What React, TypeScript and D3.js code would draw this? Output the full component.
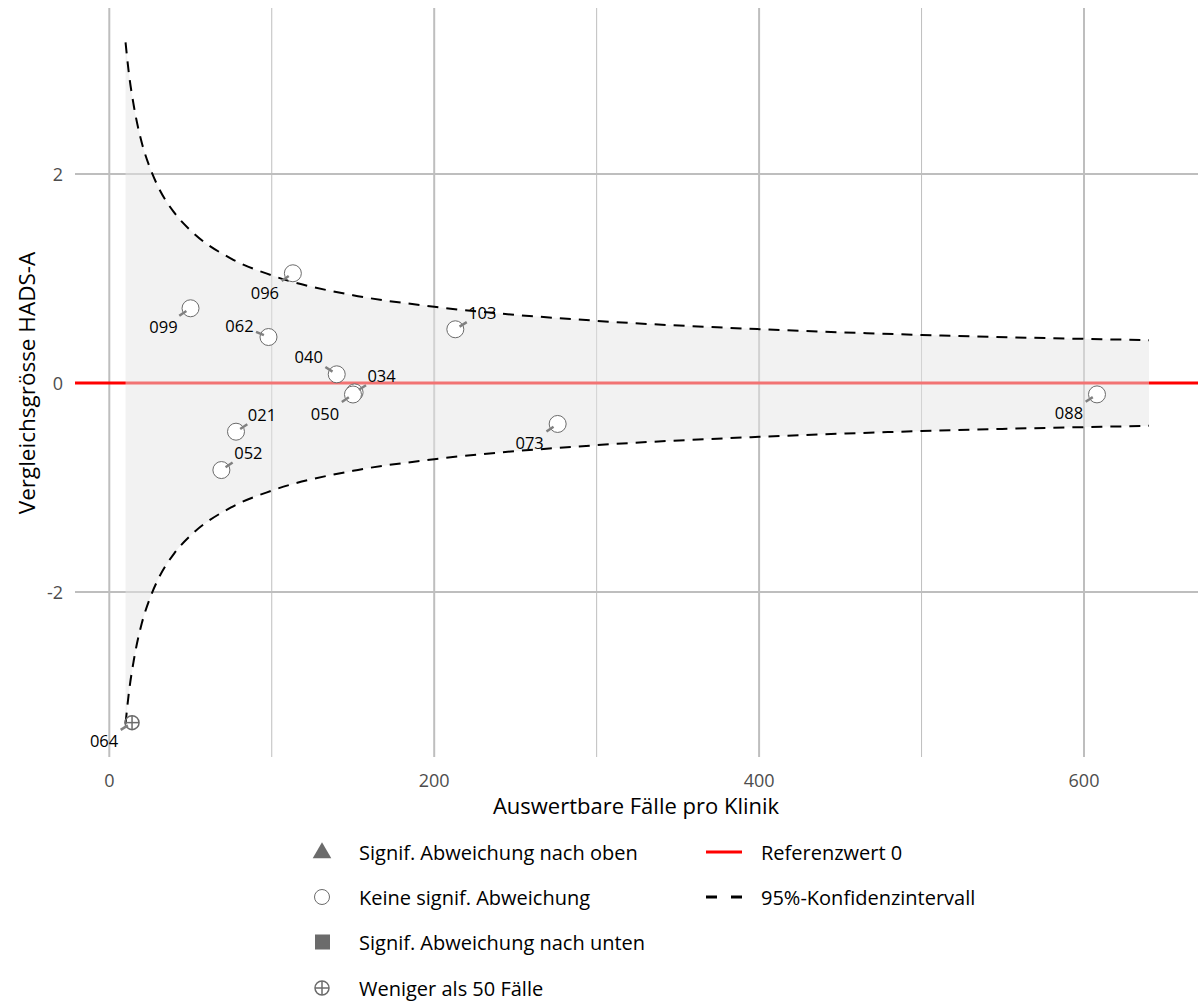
import React from 'react';
import * as d3 from 'd3';

// clinics (funnel plot HADS-A)
const clinicIds = ['099', '096', '062', '040', '034', '050', '021', '052', '103', '073', '088', '064'];
const casesPerClinic = [50, 113, 98, 140, 151, 150, 78, 69, 213, 276, 608, 14];
const compareValues = [0.715, 1.05, 0.44, 0.083, -0.09, -0.11, -0.466, -0.833, 0.514, -0.392, -0.109, -3.25];

// label nudges (ggrepel-like), in px
const labelDx = [-27, -28, -29, -28, 27, -28, 26, 27, 27, -28, -28, -28];
const labelDy = [18, 19, -12, -18, -17, 19, -17, -18, -17, 19, 18, 18];

// 95% CI bounds
const ciN = [10, 12, 15, 20, 25, 30, 40, 50, 75, 100, 150, 200, 300, 400, 500, 640];
const ciUpper = [3.26, 2.97, 2.66, 2.3, 2.06, 1.88, 1.63, 1.46, 1.19, 1.03, 0.84, 0.73, 0.595, 0.515, 0.46, 0.41];
const ciLower = [-3.26, -2.97, -2.66, -2.3, -2.06, -1.88, -1.63, -1.46, -1.19, -1.03, -0.84, -0.73, -0.595, -0.515, -0.46, -0.41];

const xMajor = [0, 200, 400, 600];
const xMinor = [100, 300, 500];
const yMajor = [-2, 0, 2];

const legendLeft = [
  'Signif. Abweichung nach oben',
  'Keine signif. Abweichung',
  'Signif. Abweichung nach unten',
  'Weniger als 50 Fälle',
];
const legendRight = ['Referenzwert 0', '95%-Konfidenzintervall'];

const FONT = '"Open Sans", "Noto Sans", sans-serif';
const GRID = '#bebebe';
const PT = '#6b6b6b';

const App: React.FC = () => {
  const W = 1198;
  const H = 1005;
  const panel = { left: 75, right: 1198, top: 8, bottom: 757 };

  const x = d3.scaleLinear().domain([0, 600]).range([109.3, 1084]);
  const y = d3.scaleLinear().domain([-2, 2]).range([592, 174]);

  const ci = ciN.map((n, i) => ({ n, lo: ciLower[i], hi: ciUpper[i] }));

  const band = d3.area<{ n: number; lo: number; hi: number }>()
    .x(d => x(d.n))
    .y0(d => y(d.lo))
    .y1(d => y(d.hi))
    .curve(d3.curveMonotoneX);
  const upperLine = d3.line<{ n: number; lo: number; hi: number }>()
    .x(d => x(d.n))
    .y(d => y(d.hi))
    .curve(d3.curveMonotoneX);
  const lowerLine = d3.line<{ n: number; lo: number; hi: number }>()
    .x(d => x(d.n))
    .y(d => y(d.lo))
    .curve(d3.curveMonotoneX);

  const pts = clinicIds.map((id, i) => ({
    id,
    n: casesPerClinic[i],
    v: compareValues[i],
    dx: labelDx[i],
    dy: labelDy[i],
  }));

  const crossCircle = (cx: number, cy: number, r: number, key?: string) => (
    <g key={key} stroke={PT} strokeWidth={1.5} fill="none">
      <circle cx={cx} cy={cy} r={r} />
      <line x1={cx - r} x2={cx + r} y1={cy} y2={cy} />
      <line x1={cx} x2={cx} y1={cy - r} y2={cy + r} />
    </g>
  );

  const legRows = [852, 897, 942, 988];

  return (
    <svg width={W} height={H} style={{ position: 'absolute', left: 0, top: 0 }} fontFamily={FONT}>
      <rect width={W} height={H} fill="#fff" />

      {/* grid */}
      {xMinor.map(t => (
        <line key={'xm' + t} x1={x(t)} x2={x(t)} y1={panel.top} y2={panel.bottom} stroke={GRID} strokeWidth={1} />
      ))}
      {xMajor.map(t => (
        <line key={'xM' + t} x1={x(t)} x2={x(t)} y1={panel.top} y2={panel.bottom} stroke={GRID} strokeWidth={2} />
      ))}
      {yMajor.map(t => (
        <line key={'yM' + t} x1={panel.left} x2={panel.right} y1={y(t)} y2={y(t)} stroke={GRID} strokeWidth={2} />
      ))}

      {/* reference line */}
      <line x1={panel.left} x2={panel.right} y1={y(0)} y2={y(0)} stroke="#ff0000" strokeWidth={3} />

      {/* CI band */}
      <path d={band(ci) || ''} fill="#e5e5e5" fillOpacity={0.5} />
      <path d={upperLine(ci) || ''} fill="none" stroke="#000" strokeWidth={2} strokeDasharray="11,8" />
      <path d={lowerLine(ci) || ''} fill="none" stroke="#000" strokeWidth={2} strokeDasharray="11,8" />

      {/* points */}
      {pts.map(p =>
        p.n < 50 ? (
          crossCircle(x(p.n), y(p.v), 7, 'p' + p.id)
        ) : (
          <circle key={'p' + p.id} cx={x(p.n)} cy={y(p.v)} r={8.5} fill="#fff" stroke={PT} strokeWidth={1} />
        )
      )}

      {/* leaders + labels */}
      {pts.map(p => {
        const cx = x(p.n);
        const cy = y(p.v);
        const len = Math.hypot(p.dx, p.dy);
        const ux = p.dx / len;
        const uy = p.dy / len;
        return (
          <g key={'l' + p.id}>
            <line x1={cx + ux * 5} y1={cy + uy * 5} x2={cx + ux * 13.5} y2={cy + uy * 13.5}
              stroke="#808080" strokeWidth={2.5} />
            <text x={cx + p.dx} y={cy + p.dy} textAnchor="middle" dominantBaseline="central"
              fontSize={16.5} fill="#000">{p.id}</text>
          </g>
        );
      })}

      {/* axes text */}
      {xMajor.map(t => (
        <text key={'xt' + t} x={x(t)} y={780} textAnchor="middle" dominantBaseline="central" fontSize={18} fill="#4d4d4d">{t}</text>
      ))}
      {yMajor.map(t => (
        <text key={'yt' + t} x={63} y={y(t)} textAnchor="end" dominantBaseline="central" fontSize={18} fill="#4d4d4d">{t}</text>
      ))}
      <text x={636} y={805} textAnchor="middle" dominantBaseline="central" fontSize={22} fill="#000">Auswertbare Fälle pro Klinik</text>
      <text transform={`translate(26,${y(0)}) rotate(-90)`} textAnchor="middle" dominantBaseline="central" fontSize={22.5} fill="#000">Vergleichsgrösse HADS-A</text>

      {/* legend */}
      <path d={d3.symbol(d3.symbolTriangle, 150)() || ''} transform={`translate(322,${legRows[0] + 1})`} fill={PT} />
      <circle cx={322} cy={legRows[1]} r={7.5} fill="#fff" stroke={PT} strokeWidth={1} />
      <rect x={315} y={legRows[2] - 7.5} width={15} height={15} fill={PT} />
      {crossCircle(322, legRows[3], 7)}
      {legendLeft.map((t, i) => (
        <text key={'ll' + i} x={359} y={legRows[i]} dominantBaseline="central" fontSize={20} fill="#000">{t}</text>
      ))}
      <line x1={706} x2={742} y1={legRows[0]} y2={legRows[0]} stroke="#ff0000" strokeWidth={3} />
      <line x1={706} x2={742} y1={legRows[1]} y2={legRows[1]} stroke="#000" strokeWidth={3} strokeDasharray="11,14" />
      {legendRight.map((t, i) => (
        <text key={'lr' + i} x={761} y={legRows[i]} dominantBaseline="central" fontSize={20} fill="#000">{t}</text>
      ))}
    </svg>
  );
};

export default App;
